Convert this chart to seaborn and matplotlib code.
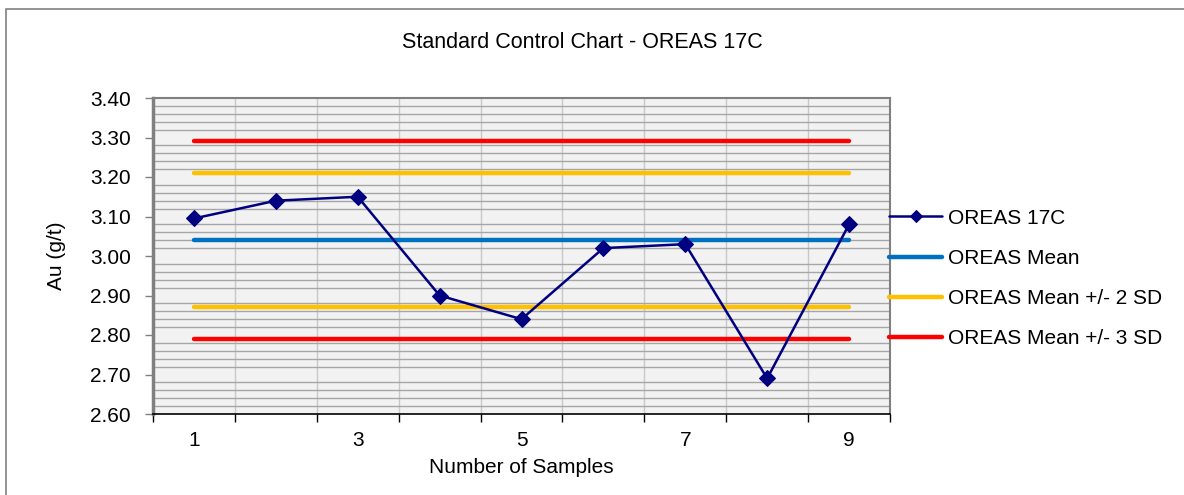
import numpy as np
import pandas as pd
import seaborn as sns
import matplotlib.pyplot as plt
from matplotlib.patches import Rectangle

# Data
samples = [1, 2, 3, 4, 5, 6, 7, 8, 9]
au_values = [3.095, 3.14, 3.15, 2.90, 2.84, 3.02, 3.03, 2.69, 3.08]
mean_val = 3.04
sd2_lo, sd2_hi = 2.87, 3.21
sd3_lo, sd3_hi = 2.79, 3.29
series_names = ['OREAS 17C', 'OREAS Mean', 'OREAS Mean +/- 2 SD', 'OREAS Mean +/- 3 SD']

sns.set_style('white')
plt.rcParams['font.family'] = ['Liberation Sans', 'DejaVu Sans']
plt.rcParams['text.color'] = 'black'
plt.rcParams['axes.labelcolor'] = 'black'
fs = 15

fig = plt.figure(figsize=(11.84, 4.95), dpi=100)
ax = fig.add_axes([153 / 1184, 1 - 414 / 495, (890 - 153) / 1184, (414 - 98) / 495])
ax.set_facecolor('#F2F2F2')

df = pd.DataFrame({'sample': samples, 'au': au_values})
lw = 3.2
ref = [(mean_val, '#0070C0', series_names[1]),
       (sd2_hi, '#FFC000', series_names[2]), (sd2_lo, '#FFC000', None),
       (sd3_hi, '#FF0000', series_names[3]), (sd3_lo, '#FF0000', None)]
for val, col, name in ref:
    sns.lineplot(x=samples, y=[val] * len(samples), ax=ax, color=col, lw=lw,
                 solid_capstyle='round', label=name, zorder=3, legend=False)

sns.lineplot(data=df, x='sample', y='au', ax=ax, color='#000080', lw=1.8,
             marker='D', markersize=8, markeredgecolor='#000080', zorder=4,
             label=series_names[0], legend=False)

# axes
yt = np.arange(2.60, 3.401, 0.10)
ax.set_xlim(0.5, 9.5)
ax.set_ylim(2.60, 3.40)
ax.set_yticks(yt)
ax.set_yticklabels([f'{v:.2f}' for v in yt], fontsize=fs)
ax.set_yticks(np.arange(2.60, 3.401, 0.02), minor=True)
ax.set_xticks(samples)
ax.set_xticklabels([str(s) if s % 2 else '' for s in samples], fontsize=fs)
ax.set_xticks(np.arange(0.5, 9.6, 1), minor=True)
ax.tick_params(axis='x', which='major', length=0, pad=12, labelcolor='black')
ax.tick_params(axis='x', which='minor', length=6, width=1, color='black', direction='out', bottom=True)
ax.tick_params(axis='y', which='major', length=6, width=1, color='#808080', direction='out',
               left=True, pad=10, labelcolor='black')
ax.tick_params(axis='y', which='minor', length=0)
ax.grid(True, which='minor', axis='y', color='#A6A6A6', lw=1)
ax.grid(True, which='minor', axis='x', color='#C8C8C8', lw=1)
ax.set_axisbelow(True)
for s in ['top', 'right']:
    ax.spines[s].set_color('#808080')
    ax.spines[s].set_linewidth(1.5)
ax.spines['left'].set_color('#808080')
ax.spines['left'].set_linewidth(2.5)
ax.spines['bottom'].set_color('black')
ax.spines['bottom'].set_linewidth(1.2)

ax.set_xlabel('Number of Samples', fontsize=fs, labelpad=6)
ax.set_ylabel('Au (g/t)', fontsize=fs, labelpad=17)
fig.text(582 / 1184, 1 - 43 / 495, 'Standard Control Chart - OREAS 17C', fontsize=15.5,
         ha='center', va='center')

handles, labels = ax.get_legend_handles_labels()
order = [labels.index(n) for n in series_names]
fig.legend([handles[i] for i in order], [labels[i] for i in order],
           loc='center left', bbox_to_anchor=(889 / 1184, 1 - 278.5 / 495),
           frameon=False, fontsize=fs, handlelength=2.55, handletextpad=0.3,
           labelspacing=1.02, borderpad=0, borderaxespad=0, markerscale=0.8)

fig.add_artist(Rectangle((6 / 1184, -0.1), 2, 1.1 - 9 / 495, transform=fig.transFigure,
                         fill=False, edgecolor='#808080', lw=1.2))

fig.savefig('out.png', dpi=100)
